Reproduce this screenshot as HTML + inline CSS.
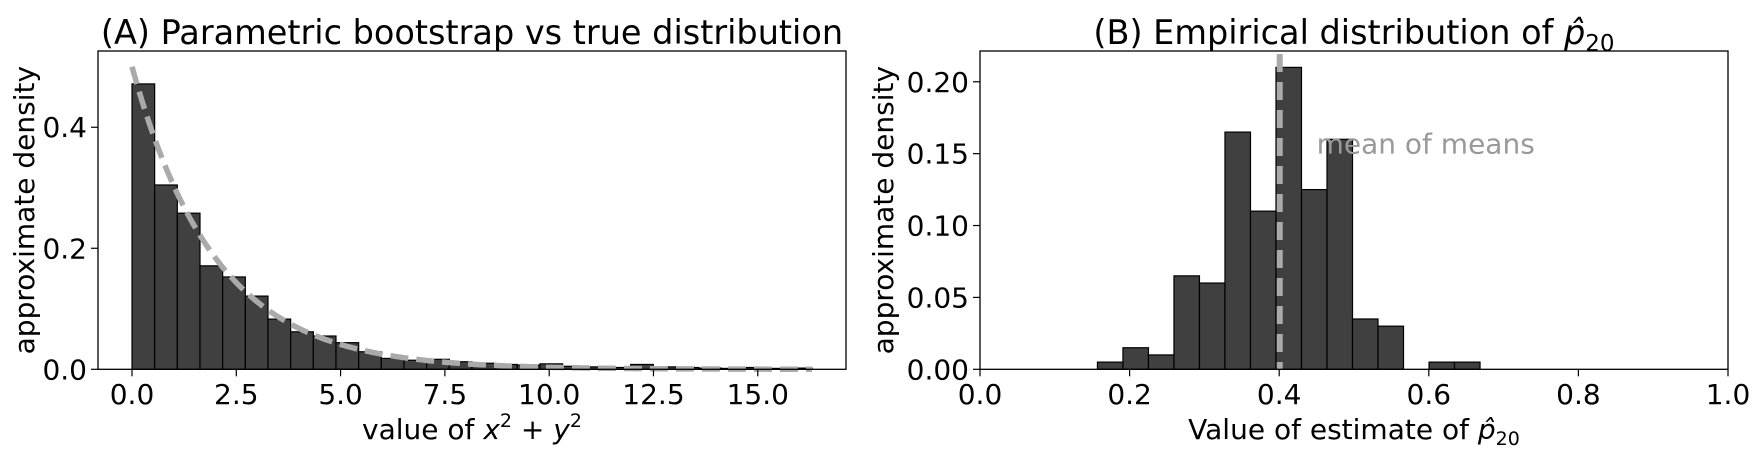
<!DOCTYPE html>
<html><head><meta charset="utf-8"><style>
html,body{margin:0;padding:0;background:#fff;}
svg{display:block;font-family:"DejaVu Sans","Liberation Sans",sans-serif;}
</style></head><body>
<svg id="fig" width="1760" height="459" xmlns="http://www.w3.org/2000/svg">
<g id="pa"></g>
<g id="pb"></g>
</svg>
<script>
// Panel A data
const aBinStart = 0;
const aBinWidth = 0.5433;
const aDensities = [0.4716,0.3046,0.258,0.171,0.1526,0.121,0.083,0.062,0.055,0.044,0.029,0.018,0.015,0.0165,0.0125,0.010,0.008,0.007,0.009,0.005,0.004,0.003,0.008,0.004,0.003,0.002,0.0015,0.003,0.0015,0.002];
const aCurveMax = 16.3;
const aCurveRate = 0.5;
const aXTicks = [0,2.5,5,7.5,10,12.5,15];
const aXTickLabels = ["0.0","2.5","5.0","7.5","10.0","12.5","15.0"];
const aYTicks = [0,0.2,0.4];
const aYTickLabels = ["0.0","0.2","0.4"];
// Panel B data
const bBinStart = 0.157;
const bBinWidth = 0.0341;
const bDensities = [0.005,0.015,0.010,0.065,0.060,0.165,0.110,0.210,0.125,0.160,0.035,0.030,0,0.005,0.005];
const bMean = 0.4007;
const bXTicks = [0,0.2,0.4,0.6,0.8,1.0];
const bXTickLabels = ["0.0","0.2","0.4","0.6","0.8","1.0"];
const bYTicks = [0,0.05,0.10,0.15,0.20];
const bYTickLabels = ["0.00","0.05","0.10","0.15","0.20"];

const NS="http://www.w3.org/2000/svg";
const FS=28, TFS=33.5;
function mk(parent,tag,attrs,text){const e=document.createElementNS(NS,tag);for(const k in attrs)e.setAttribute(k,attrs[k]);if(text!==undefined)e.textContent=text;parent.appendChild(e);return e;}

function axes(g,L,R,T,B,xmin,xmax,ymin,ymax){
  const sx=v=>L+(v-xmin)/(xmax-xmin)*(R-L);
  const sy=v=>B-(v-ymin)/(ymax-ymin)*(B-T);
  return {sx,sy};
}
function drawBars(g,sx,sy,start,w,vals,name){
  vals.forEach((v,i)=>{
    if(v<=0)return;
    const x0=sx(start+i*w),x1=sx(start+(i+1)*w),y=sy(v),y0=sy(0);
    const r=mk(g,'rect',{x:x0,y:y,width:x1-x0,height:y0-y,fill:'#404040',stroke:'#000','stroke-width':1.2});
    
    
  });
}
function frame(g,L,R,T,B,sx,sy,xt,xtl,yt,ytl){
  const f=mk(g,'rect',{x:L,y:T,width:R-L,height:B-T,fill:'none',stroke:'#000','stroke-width':1.3});
  
  
  xt.forEach((t,i)=>{const x=sx(t);
    mk(g,'line',{x1:x,x2:x,y1:B,y2:B+7,stroke:'#000','stroke-width':1.2});
    const tx=mk(g,'text',{x:x,y:404,'font-size':FS,'text-anchor':'middle'},xtl[i]);
    
    
  });
  yt.forEach((t,i)=>{const y=sy(t);
    mk(g,'line',{x1:L-7,x2:L,y1:y,y2:y,stroke:'#000','stroke-width':1.2});
    const tx=mk(g,'text',{x:L-11,y:y+10,'font-size':FS,'text-anchor':'end'},ytl[i]);
    
    
  });
}

// Panel A
(function(){
  const g=document.getElementById('pa');
  const L=98,R=846,T=51,B=369.3;
  const {sx,sy}=axes(g,L,R,T,B,-0.815,17.115,0,0.526);
  drawBars(g,sx,sy,aBinStart,aBinWidth,aDensities,'a');
  let d='';
  for(let i=0;i<=200;i++){const x=aCurveMax*i/200;const y=aCurveRate*Math.exp(-aCurveRate*x);d+=(i?'L':'M')+sx(x).toFixed(1)+','+sy(y).toFixed(1);}
  const p=mk(g,'path',{d:d,fill:'none',stroke:'#aaaaaa','stroke-width':5.5,'stroke-dasharray':'18 8'});
  
  
  frame(g,L,R,T,B,sx,sy,aXTicks,aXTickLabels,aYTicks,aYTickLabels);
  const t=mk(g,'text',{x:(L+R)/2,y:44,'font-size':TFS,'text-anchor':'middle'},'(A) Parametric bootstrap vs true distribution');
  
  
  const xl=mk(g,'text',{x:(L+R)/2,y:439,'font-size':FS,'text-anchor':'middle'});
  
  
  xl.innerHTML='value of <tspan font-style="italic">x</tspan><tspan font-size="19" dy="-12">2</tspan><tspan dy="12"> + </tspan><tspan font-style="italic">y</tspan><tspan font-size="19" dy="-12">2</tspan>';
  const yl=mk(g,'text',{x:0,y:0,'font-size':FS,'text-anchor':'middle',transform:'translate(34,'+((T+B)/2)+') rotate(-90)'},'approximate density');
  
  
})();

// Panel B
(function(){
  const g=document.getElementById('pb');
  const L=980,R=1728,T=51,B=369.3;
  const {sx,sy}=axes(g,L,R,T,B,0,1,0,0.2214);
  drawBars(g,sx,sy,bBinStart,bBinWidth,bDensities,'b');
  const ln=mk(g,'line',{x1:sx(bMean),x2:sx(bMean),y1:54,y2:B,stroke:'#aaaaaa','stroke-width':6,'stroke-dasharray':'18 10'});
  
  
  const ann=mk(g,'text',{x:sx(0.45),y:sy(0.15),'font-size':FS,fill:'#999999'},'mean of means');
  
  
  frame(g,L,R,T,B,sx,sy,bXTicks,bXTickLabels,bYTicks,bYTickLabels);
  const t=mk(g,'text',{x:(L+R)/2,y:44,'font-size':TFS,'text-anchor':'middle'});
  
  
  t.innerHTML='(B) Empirical distribution of <tspan font-style="italic">p̂</tspan><tspan font-size="23" dy="7">20</tspan>';
  const xl=mk(g,'text',{x:(L+R)/2,y:439,'font-size':FS,'text-anchor':'middle'});
  
  
  xl.innerHTML='Value of estimate of <tspan font-style="italic">p̂</tspan><tspan font-size="19" dy="6">20</tspan>';
  const yl=mk(g,'text',{x:0,y:0,'font-size':FS,'text-anchor':'middle',transform:'translate(893,'+((T+B)/2)+') rotate(-90)'},'approximate density');
  
  
})();
</script>
</body></html>
